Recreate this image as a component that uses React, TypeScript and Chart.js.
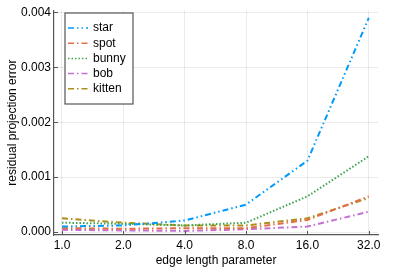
import React, { useEffect, useRef } from "react";
import { Chart, registerables } from "chart.js";

Chart.register(...registerables);

const xLabels = ["1.0", "2.0", "4.0", "8.0", "16.0", "32.0"];
const xPositions = [0, 1, 2, 3, 4, 5];
const yTicks = [0, 0.001, 0.002, 0.003, 0.004];

const seriesNames = ["star", "spot", "bunny", "bob", "kitten"];
const star = [0.0001, 0.00012, 0.00021, 0.0005, 0.0013, 0.0039];
const spot = [0.00007, 0.00006, 0.00007, 0.00007, 0.00022, 0.00065];
const bunny = [0.00017, 0.00015, 0.00012, 0.00017, 0.00065, 0.00138];
const bob = [0.00004, 0.00003, 0.00002, 0.00005, 0.0001, 0.00037];
const kitten = [0.00025, 0.00017, 0.00012, 0.00012, 0.00025, 0.00062];

const seriesValues = [star, spot, bunny, bob, kitten];
const colors = ["#009AFA", "#E36F47", "#3EA44E", "#C371D2", "#AC8E18"];
const dashes = [
  [6, 3, 1.5, 3, 1.5, 3],
  [6, 3, 1.5, 3],
  [1.5, 2],
  [6, 3, 1.5, 3],
  [6, 3, 1.5, 3],
];

const FONT = "'Liberation Sans', Arial, sans-serif";

const legendPlugin = {
  id: "boxLegend",
  afterDraw(chart: any) {
    const ctx = chart.ctx;
    const area = chart.chartArea;
    const xs = chart.scales.x;
    const ys = chart.scales.y;
    ctx.save();
    // inward tick marks
    ctx.strokeStyle = "#555555";
    ctx.lineWidth = 1;
    ctx.setLineDash([]);
    xPositions.forEach((v) => {
      const px = Math.round(xs.getPixelForValue(v)) + 0.5;
      ctx.beginPath();
      ctx.moveTo(px, area.bottom);
      ctx.lineTo(px, area.bottom - 4);
      ctx.stroke();
    });
    yTicks.forEach((v) => {
      const py = Math.round(ys.getPixelForValue(v)) + 0.5;
      ctx.beginPath();
      ctx.moveTo(area.left, py);
      ctx.lineTo(area.left + 4, py);
      ctx.stroke();
    });
    // legend box
    const x0 = 65, y0 = 13, w = 68, h = 91;
    ctx.fillStyle = "#ffffff";
    ctx.fillRect(x0, y0, w, h);
    ctx.strokeStyle = "#555555";
    ctx.lineWidth = 1.2;
    ctx.strokeRect(x0, y0, w, h);
    ctx.font = `12px ${FONT}`;
    ctx.textBaseline = "middle";
    ctx.textAlign = "left";
    seriesNames.forEach((name, i) => {
      const y = y0 + 15 + i * 15.2;
      ctx.beginPath();
      ctx.setLineDash(dashes[i]);
      ctx.strokeStyle = colors[i];
      ctx.lineWidth = 1.5;
      ctx.moveTo(x0 + 3, y);
      ctx.lineTo(x0 + 23, y);
      ctx.stroke();
      ctx.setLineDash([]);
      ctx.fillStyle = "#000000";
      ctx.fillText(name, x0 + 28, y);
    });
    ctx.restore();
  },
};

export default function App() {
  const ref = useRef<HTMLCanvasElement>(null);
  useEffect(() => {
    document.body.style.margin = "0";
    const canvas = ref.current!;
    const chart = new Chart(canvas, {
      type: "line",
      data: {
        datasets: seriesNames.map((name, i) => ({
          label: name,
          data: seriesValues[i].map((v, j) => ({ x: xPositions[j], y: v })),
          borderColor: colors[i],
          backgroundColor: colors[i],
          borderWidth: 2,
          borderDash: dashes[i],
          pointRadius: 0,
          tension: 0,
          fill: false,
        })),
      },
      options: {
        responsive: false,
        animation: false,
        maintainAspectRatio: false,
        layout: { padding: { top: 5, right: 24, left: 0, bottom: 0 } },
        plugins: {
          legend: { display: false },
          tooltip: { enabled: false },
        },
        scales: {
          x: {
            type: "linear",
            min: -0.13,
            max: 5.15,
            afterBuildTicks: (scale: any) => {
              scale.ticks = xPositions.map((v) => ({ value: v }));
            },
            afterFit: (scale: any) => {
              scale.height = 33;
            },
            ticks: {
              callback: (v: any) => xLabels[xPositions.indexOf(Number(v))] ?? "",
              font: { family: FONT, size: 12 },
              color: "#000",
              padding: 3,
              maxRotation: 0,
              autoSkip: false,
            },
            grid: { color: "rgba(0,0,0,0.08)", drawTicks: false },
            border: { color: "#555", width: 1.2 },
            title: {
              display: true,
              text: "edge length parameter",
              font: { family: FONT, size: 12 },
              color: "#000",
              padding: { top: 1, bottom: 0 },
            },
          },
          y: {
            type: "linear",
            min: -0.000054,
            max: 0.00404,
            afterBuildTicks: (scale: any) => {
              scale.ticks = yTicks.map((v) => ({ value: v }));
            },
            afterFit: (scale: any) => {
              scale.width = 54;
            },
            ticks: {
              callback: (v: any) => Number(v).toFixed(3),
              font: { family: FONT, size: 12 },
              color: "#000",
              padding: 3,
            },
            grid: { color: "rgba(0,0,0,0.08)", drawTicks: false },
            border: { color: "#555", width: 1.2 },
            title: {
              display: true,
              text: "residual projection error",
              font: { family: FONT, size: 12 },
              color: "#000",
              padding: { top: 5, bottom: 0 },
            },
          },
        },
      },
      plugins: [legendPlugin],
    });
    return () => chart.destroy();
  }, []);
  return (
    <div style={{ width: 402, height: 268 }}>
      <canvas ref={ref} width={402} height={268} />
    </div>
  );
}
